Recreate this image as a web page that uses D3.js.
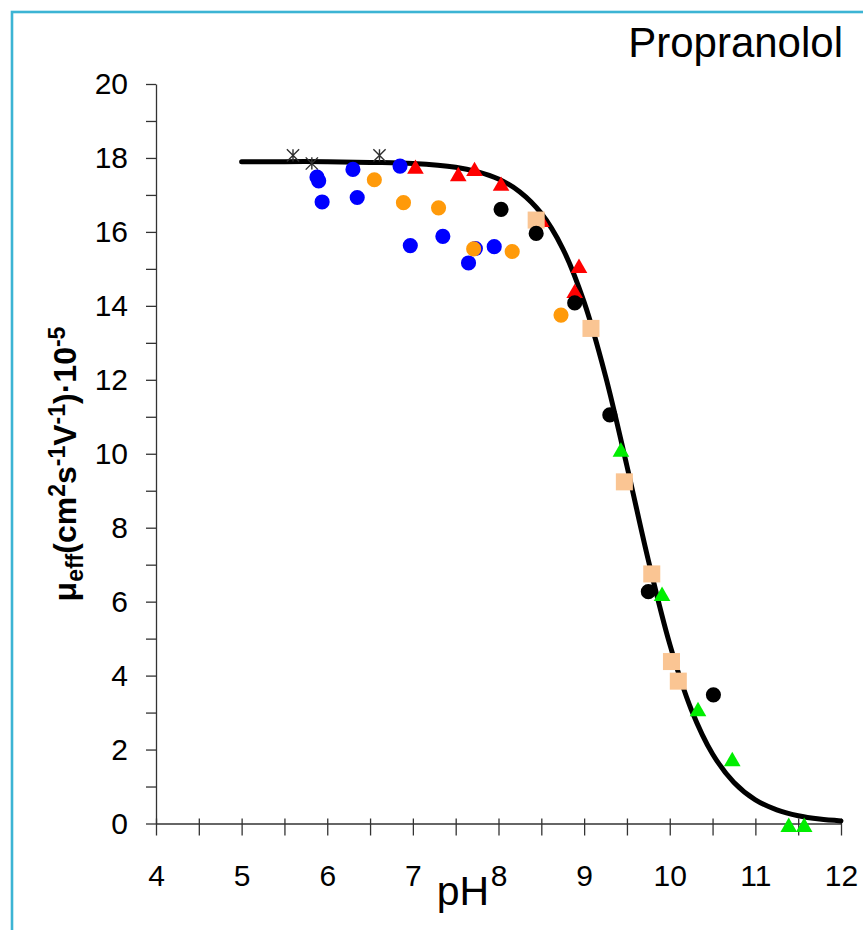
<!DOCTYPE html>
<html>
<head>
<meta charset="utf-8">
<script src="https://cdn.jsdelivr.net/npm/d3@7"></script>
<style>
  html, body { margin: 0; padding: 0; background: #fff; }
  svg { display: block; font-family: "Liberation Sans", Arial, sans-serif; }
</style>
</head>
<body>
<svg id="chart" width="863" height="930"></svg>
<script>
// ---------- data ----------
const title = "Propranolol";
const xTickValues = [4, 5, 6, 7, 8, 9, 10, 11, 12];
const yTickValues = [0, 2, 4, 6, 8, 10, 12, 14, 16, 18, 20];

// fitted curve: [pH, mobility]
const curvePH = [5, 5.5, 6, 6.5, 7, 7.5, 7.75, 8, 8.25, 8.5, 8.75, 9, 9.25, 9.5, 9.75, 10, 10.25, 10.5, 10.75, 11, 11.25, 11.5, 11.75, 12];
const curveMu = [17.9, 17.9, 17.9, 17.88, 17.85, 17.75, 17.63, 17.43, 17.08, 16.5, 15.55, 14.1, 12.1, 9.67, 7.12, 4.85, 3.09, 1.88, 1.11, 0.64, 0.37, 0.21, 0.12, 0.07];

const asteriskPts = [[5.60, 18.07], [5.82, 17.85], [6.61, 18.07]];
const bluePts = [[5.88, 17.48], [5.90, 17.38], [5.94, 16.81], [6.30, 17.69], [6.35, 16.93], [6.85, 17.78], [6.97, 15.63], [7.35, 15.88], [7.73, 15.55], [7.65, 15.16], [7.95, 15.60]];
const orangePts = [[6.55, 17.41], [6.89, 16.79], [7.30, 16.65], [7.71, 15.54], [8.16, 15.47], [8.73, 13.75]];
const redPts = [[7.03, 17.70], [7.53, 17.50], [7.72, 17.64], [8.03, 17.24], [8.50, 16.26], [8.89, 14.34], [8.94, 15.02]];
const squarePts = [[8.44, 16.32], [9.08, 13.39], [9.47, 9.24], [9.79, 6.75], [10.02, 4.38], [10.10, 3.85]];
const blackPts = [[8.03, 16.61], [8.44, 15.96], [8.89, 14.08], [9.30, 11.05], [9.75, 6.27], [10.51, 3.48]];
const greenPts = [[9.43, 10.05], [9.91, 6.15], [10.33, 3.03], [10.73, 1.68], [11.39, -0.1], [11.57, -0.1]];

// ---------- drawing ----------
const svg = d3.select("#chart");
svg.append("rect").attr("width", 863).attr("height", 930).attr("fill", "#fff");

// frame (only top and left edges fall inside the picture)
svg.append("rect")
  .attr("x", 12).attr("y", 12).attr("width", 900).attr("height", 1000)
  .attr("fill", "none").attr("stroke", "#3cb4d4").attr("stroke-width", 2.6);

const x = d3.scaleLinear().domain([4, 12]).range([156, 841]);
const y = d3.scaleLinear().domain([0, 20]).range([823.5, 84]);

const axisColor = "#333";

// y axis
const yAxis = svg.append("g").attr("transform", `translate(${x(4)},0)`)
  .call(d3.axisLeft(y).tickValues(d3.range(0, 21, 1)).tickSize(10).tickSizeOuter(0).tickPadding(18)
    .tickFormat(d => yTickValues.includes(d) ? String(d) : ""));
yAxis.select(".domain").attr("stroke", axisColor).attr("stroke-width", 1.3);
yAxis.selectAll(".tick line").attr("stroke", axisColor).attr("stroke-width", 1.3);
yAxis.selectAll(".tick text").attr("font-size", 30).attr("fill", "#000")
  .attr("font-family", "Liberation Sans, Arial, sans-serif");

// x axis
const xAxis = svg.append("g").attr("transform", `translate(0,${y(0)})`)
  .call(d3.axisBottom(x).tickValues(d3.range(4, 12.01, 0.5)).tickSize(12).tickSizeOuter(0)
    .tickFormat(d => xTickValues.includes(d) ? String(d) : ""));
xAxis.select(".domain").attr("stroke", axisColor).attr("stroke-width", 1.3);
xAxis.selectAll(".tick line").attr("stroke", axisColor).attr("stroke-width", 1.3).attr("y1", -5).attr("y2", 12);
xAxis.selectAll(".tick text").attr("font-size", 30).attr("fill", "#000").attr("y", 41.5)
  .attr("font-family", "Liberation Sans, Arial, sans-serif");

// axis titles
svg.append("text").attr("x", 463).attr("y", 905).attr("text-anchor", "middle")
  .attr("font-size", 41).attr("fill", "#000").text("pH");

const yl = svg.append("text")
  .attr("transform", "translate(76,464) rotate(-90)")
  .attr("text-anchor", "middle").attr("font-weight", "bold").attr("font-size", 32).attr("fill", "#000");
const parts = [
  { t: "μ", s: 32, dy: 0 },
  { t: "eff", s: 23, dy: 7 },
  { t: "(cm", s: 32, dy: -7 },
  { t: "2", s: 23, dy: -11 },
  { t: "s", s: 32, dy: 11 },
  { t: "-1", s: 23, dy: -11 },
  { t: "V", s: 32, dy: 11 },
  { t: "-1", s: 23, dy: -11 },
  { t: ")·10", s: 32, dy: 11 },
  { t: "-5", s: 23, dy: -11 }
];
parts.forEach(p => yl.append("tspan").attr("font-size", p.s).attr("dy", p.dy).text(p.t));

// title
svg.append("text").attr("x", 843).attr("y", 57).attr("text-anchor", "end")
  .attr("font-size", 42).attr("fill", "#000").text(title);

// curve
const curveData = curvePH.map((p, i) => [p, curveMu[i]]);
svg.append("path").datum(curveData)
  .attr("d", d3.line().x(d => x(d[0])).y(d => y(d[1])).curve(d3.curveCatmullRom.alpha(0.5)))
  .attr("fill", "none").attr("stroke", "#000").attr("stroke-width", 5)
  .attr("stroke-linecap", "round").attr("stroke-linejoin", "round");

// custom asterisk: vertical bar plus an X
const excelStar = {
  draw(ctx, size) {
    const r = Math.sqrt(size) / 2;
    ctx.moveTo(0, -r); ctx.lineTo(0, r);
    ctx.moveTo(-r, -r); ctx.lineTo(r, r);
    ctx.moveTo(-r, r); ctx.lineTo(r, -r);
  }
};

function drawSeries(pts, type, size, fill, stroke, sw) {
  svg.append("g").selectAll("path").data(pts).join("path")
    .attr("transform", d => `translate(${x(d[0])},${y(d[1])})`)
    .attr("d", d3.symbol().type(type).size(size))
    .attr("fill", fill).attr("stroke", stroke || "none").attr("stroke-width", sw || 0);
}

drawSeries(asteriskPts, excelStar, 150, "none", "#303030", 1.4);
drawSeries(bluePts, d3.symbolCircle, 180, "#0000ff");
drawSeries(orangePts, d3.symbolCircle, 180, "#ff9a0a");
drawSeries(redPts, d3.symbolTriangle, 120, "#ff0000");
drawSeries(squarePts, d3.symbolSquare, 290, "#fac593");
drawSeries(blackPts, d3.symbolCircle, 180, "#000000");
drawSeries(greenPts, d3.symbolTriangle, 120, "#00ee00");
</script>
</body>
</html>
